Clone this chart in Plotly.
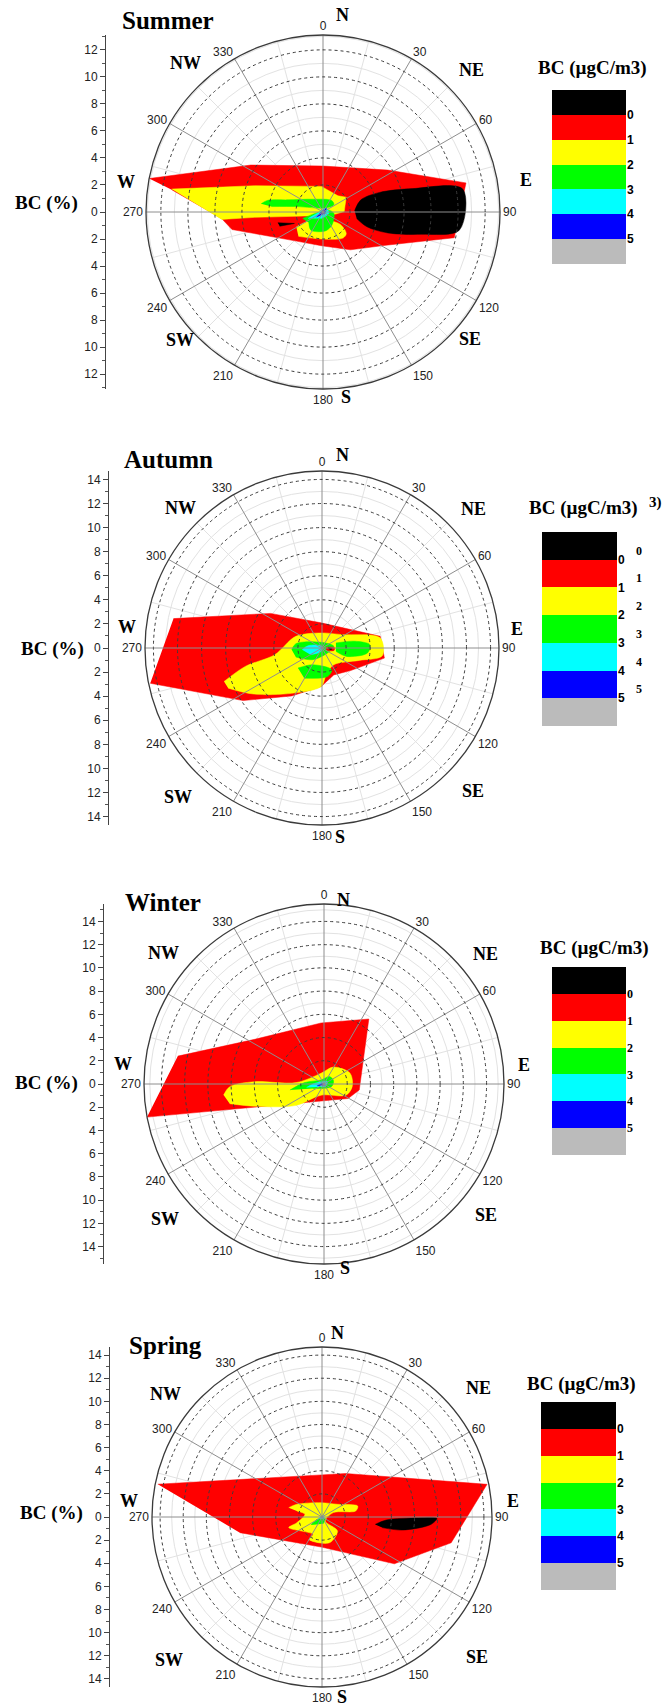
import plotly.graph_objects as go

W, H = 663, 1708

SEASONS = ["Summer", "Autumn", "Winter", "Spring"]
RADIAL_MAX = [13.1, 14.7, 15.5, 14.7]
ANGLE_TICKS = list(range(0, 360, 30))
MINOR_ANGLES = list(range(15, 360, 30))
COMPASS = ["N", "NE", "E", "SE", "S", "SW", "W", "NW"]
LEVEL_LABELS = ["0", "1", "2", "3", "4", "5"]
LEVEL_COLORS = ["#000000", "#ff0000", "#ffff00", "#00ff00", "#00ffff", "#0000ff", "#bbbbbb"]  # legend, top -> bottom
COLOR = {"black": "#000000", "red": "#ff0000", "yellow": "#ffff00", "green": "#00ff00",
         "cyan": "#00ffff", "blue": "#0000ff"}

# ---- contour region boundaries: theta (deg, clockwise from N) and r (BC %) ----
SUMMER_RED_T = [280.9, 303.0, 0.0, 57.1, 78.5, 101.1, 118.9, 144.0, 182.7, 222.5, 259.1, 266.3, 278.4]
SUMMER_RED_R = [13.1, 6.38, 3.4, 5.71, 10.8, 9.9, 5.13, 3.46, 2.5, 2.92, 6.86, 7.52, 11.32]
SUMMER_BLACK_T = [87.6, 72.2, 70.9, 75.4, 80.7, 97.6, 102.8, 107.9, 108.6, 100.9]
SUMMER_BLACK_R = [2.34, 2.94, 4.43, 6.87, 10.48, 10.18, 7.45, 5.04, 3.44, 2.54]
SUMMER_YEL1_T = [278.6, 291.1, 356.4, 42.8, 57.4, 88.9, 99.0, 174.0, 257.5, 265.5, 265.8]
SUMMER_YEL1_R = [11.33, 5.41, 1.9, 1.63, 2.04, 1.57, 0.96, 0.3, 1.38, 5.07, 7.53]
SUMMER_YEL2_T = [240.8, 238.7, 163.0, 125.5, 132.9, 142.5, 183.4, 225.3]
SUMMER_YEL2_R = [2.26, 1.4, 0.63, 1.55, 2.35, 2.43, 2.0, 2.56]
SUMMER_GRN1_T = [277.5, 281.7, 289.2, 322.1, 37.4, 56.5, 31.0, 281.5, 276.0]
SUMMER_GRN1_R = [4.62, 4.21, 2.73, 1.2, 1.07, 0.96, 0.35, 2.01, 3.84]
SUMMER_GRN2_T = [252.4, 260.0, 66.0, 97.0, 146.4, 172.7, 213.4, 232.7]
SUMMER_GRN2_R = [1.58, 0.59, 0.37, 0.81, 1.18, 1.41, 1.62, 1.32]
SUMMER_CYAN_T = [246.6, 257.0, 41.8, 103.0, 194.0]
SUMMER_CYAN_R = [1.21, 0.44, 0.37, 0.44, 0.5]
SUMMER_BLUE_T = [230.8, 284.0, 41.8, 130.0]
SUMMER_BLUE_R = [0.63, 0.12, 0.37, 0.16]
SUMMER_SPOT_T = [256.6, 248.2, 251.8]
SUMMER_SPOT_R = [3.44, 2.28, 3.37]

AUTUMN_RED_T = [281.2, 303.9, 358.0, 78.6, 99.2, 128.2, 156.3, 181.3, 212.3, 236.3, 258.4]
AUTUMN_RED_R = [12.57, 5.15, 2.09, 4.93, 5.25, 3.03, 2.44, 3.2, 4.71, 7.87, 14.56]
AUTUMN_YEL_T = [251.1, 256.5, 261.9, 294.1, 356.8, 56.5, 80.1, 97.3, 108.5, 144.8, 171.1, 181.3, 213.8, 236.0, 246.8]
AUTUMN_YEL_R = [8.6, 6.55, 3.96, 2.38, 1.25, 2.01, 4.9, 5.05, 3.25, 1.7, 2.26, 3.2, 4.53, 6.84, 8.47]
AUTUMN_GRN1_T = [266.8, 279.4, 351.5, 81.9, 132.4, 218.4, 250.9]
AUTUMN_GRN1_R = [2.52, 2.2, 0.48, 0.99, 0.62, 1.24, 2.3]
AUTUMN_GRN2_T = [70.1, 78.4, 86.0, 96.3, 109.0, 103.6]
AUTUMN_GRN2_R = [1.23, 2.79, 3.97, 3.8, 2.15, 1.19]
AUTUMN_GRN3_T = [230.1, 209.0, 155.9, 169.0, 210.4]
AUTUMN_GRN3_R = [2.6, 1.59, 1.98, 2.41, 2.91]
AUTUMN_CYAN_T = [265.2, 280.0, 0.0, 194.0, 239.5]
AUTUMN_CYAN_R = [1.66, 1.14, 0.14, 0.29, 1.1]
AUTUMN_RED2_T = [80.0, 88.4, 102.7, 118.5]
AUTUMN_RED2_R = [0.35, 1.05, 1.0, 0.4]
AUTUMN_BLACK_T = [85.0, 95.0, 100.0, 88.0]
AUTUMN_BLACK_R = [0.55, 0.85, 0.7, 0.5]

WINTER_RED_T = [280.8, 302.8, 357.3, 34.6, 99.7, 121.1, 259.4]
WINTER_RED_R = [12.81, 7.1, 5.26, 6.8, 3.08, 2.42, 15.5]
WINTER_YEL_T = [263.7, 268.4, 271.9, 272.9, 345.0, 29.3, 67.5, 95.4, 116.9, 194.6, 232.5, 252.2, 258.2]
WINTER_YEL_R = [8.7, 8.12, 5.97, 2.4, 0.96, 1.67, 2.43, 2.44, 2.12, 0.99, 3.02, 6.27, 8.29]
WINTER_GRN_T = [259.9, 274.1, 324.5, 35.7, 70.5, 109.8, 248.6]
WINTER_GRN_R = [2.98, 1.68, 0.43, 0.79, 0.87, 0.68, 1.04]
WINTER_CYAN_T = [259.0, 274.3, 55.4, 154.0]
WINTER_CYAN_R = [1.53, 0.79, 0.35, 0.26]
WINTER_BLUE_T = [254.4, 310.0, 137.0]
WINTER_BLUE_R = [0.63, 0.09, 0.16]

SPRING_RED_T = [281.3, 358.9, 28.5, 78.8, 101.3, 122.9, 181.5, 259.2]
SPRING_RED_R = [14.48, 3.64, 4.28, 14.55, 11.39, 7.45, 2.6, 7.23]
SPRING_BLACK_T = [97.9, 92.7, 90.4, 90.7, 93.9, 99.2, 100.0]
SPRING_BLACK_R = [4.64, 5.56, 8.36, 9.94, 9.44, 7.05, 5.28]
SPRING_YEL_T = [285.7, 296.8, 356.8, 50.6, 72.9, 79.9, 68.8, 141.0, 132.1, 164.2, 210.0, 207.0, 252.3, 257.3, 278.8, 283.4]
SPRING_YEL_R = [2.99, 2.44, 1.24, 1.73, 3.23, 2.96, 1.05, 0.45, 1.8, 2.32, 2.24, 1.69, 3.02, 2.23, 1.5, 2.24]
SPRING_GRN_T = [234.0, 244.5, 113.0, 170.0]
SPRING_GRN_R = [1.17, 0.47, 0.3, 0.59]
SPRING_CYAN_T = [244.0, 40.0, 120.0]
SPRING_CYAN_R = [0.39, 0.16, 0.24]

REGIONS = {
    "Summer": [("red", SUMMER_RED_T, SUMMER_RED_R, "linear"),
               ("black", SUMMER_BLACK_T, SUMMER_BLACK_R, "spline"),
               ("yellow", SUMMER_YEL1_T, SUMMER_YEL1_R, "linear"),
               ("yellow", SUMMER_YEL2_T, SUMMER_YEL2_R, "spline"),
               ("green", SUMMER_GRN1_T, SUMMER_GRN1_R, "spline"),
               ("green", SUMMER_GRN2_T, SUMMER_GRN2_R, "spline"),
               ("cyan", SUMMER_CYAN_T, SUMMER_CYAN_R, "spline"),
               ("blue", SUMMER_BLUE_T, SUMMER_BLUE_R, "spline"),
               ("black", SUMMER_SPOT_T, SUMMER_SPOT_R, "linear")],
    "Autumn": [("red", AUTUMN_RED_T, AUTUMN_RED_R, "linear"),
               ("yellow", AUTUMN_YEL_T, AUTUMN_YEL_R, "spline"),
               ("green", AUTUMN_GRN1_T, AUTUMN_GRN1_R, "spline"),
               ("green", AUTUMN_GRN2_T, AUTUMN_GRN2_R, "spline"),
               ("green", AUTUMN_GRN3_T, AUTUMN_GRN3_R, "spline"),
               ("cyan", AUTUMN_CYAN_T, AUTUMN_CYAN_R, "spline"),
               ("red", AUTUMN_RED2_T, AUTUMN_RED2_R, "spline"),
               ("black", AUTUMN_BLACK_T, AUTUMN_BLACK_R, "spline")],
    "Winter": [("red", WINTER_RED_T, WINTER_RED_R, "linear"),
               ("yellow", WINTER_YEL_T, WINTER_YEL_R, "spline"),
               ("green", WINTER_GRN_T, WINTER_GRN_R, "spline"),
               ("cyan", WINTER_CYAN_T, WINTER_CYAN_R, "spline"),
               ("blue", WINTER_BLUE_T, WINTER_BLUE_R, "spline")],
    "Spring": [("red", SPRING_RED_T, SPRING_RED_R, "linear"),
               ("black", SPRING_BLACK_T, SPRING_BLACK_R, "spline"),
               ("yellow", SPRING_YEL_T, SPRING_YEL_R, "spline"),
               ("green", SPRING_GRN_T, SPRING_GRN_R, "spline"),
               ("cyan", SPRING_CYAN_T, SPRING_CYAN_R, "spline")],
}

# ---- layout geometry (pixels) ----
GEOM = [
    dict(cx=323, cy=212, rad=177, ax_x=106, title=(120, 20), bc=(46, 203), box=(552, 626, 90, 264), ltitle=(536, 68),
         compass=[(342, 15), (471, 70), (526, 180), (470, 339), (346, 397), (180, 340), (126, 182), (185, 63)],
         lfont="sans"),
    dict(cx=322, cy=648, rad=177, ax_x=109, title=(122, 459), bc=(52, 649), box=(542, 617, 532, 726), ltitle=(527, 508),
         compass=[(342, 455), (473, 509), (517, 629), (473, 791), (340, 837), (178, 797), (127, 627), (181, 508)],
         lfont="sans"),
    dict(cx=324, cy=1084, rad=180, ax_x=104, title=(123, 902), bc=(46, 1083), box=(552, 626, 967, 1155), ltitle=(538, 948),
         compass=[(343, 900), (486, 954), (524, 1065), (486, 1215), (345, 1268), (165, 1219), (123, 1064), (163, 953)],
         lfont="serif"),
    dict(cx=322, cy=1517, rad=170, ax_x=110, title=(127, 1345), bc=(51, 1513), box=(541, 616, 1402, 1590), ltitle=(525, 1384),
         compass=[(337, 1333), (478, 1388), (513, 1501), (477, 1657), (342, 1697), (169, 1660), (129, 1501), (165, 1394)],
         lfont="sans"),
]

SERIF = "Liberation Serif, Times New Roman, serif"
SANS = "Liberation Sans, Arial, sans-serif"


def px(x):
    return x / W


def py(y):
    return 1 - y / H


def pname(n):
    return "polar" if n == 1 else f"polar{n}"


def aname(kind, n):
    return kind if n == 1 else f"{kind}{n}"


fig = go.Figure()
annotations = []
layout = {}

for i, season in enumerate(SEASONS):
    g = GEOM[i]
    R = RADIAL_MAX[i]
    p_data, p_grid = 2 * i + 1, 2 * i + 2
    dom = dict(x=[px(g["cx"] - g["rad"]), px(g["cx"] + g["rad"])],
               y=[py(g["cy"] + g["rad"]), py(g["cy"] - g["rad"])])

    # filled contour regions
    for cname, th, rr, shape in REGIONS[season]:
        fig.add_trace(go.Scatterpolar(
            theta=th, r=rr, mode="lines", fill="toself", fillcolor=COLOR[cname],
            line=dict(color=COLOR[cname], width=0.5, shape=shape, smoothing=0.9),
            subplot=pname(p_data), showlegend=False, hoverinfo="skip"))
    # invisible anchor trace for grid overlay
    fig.add_trace(go.Scatterpolar(theta=[0], r=[0], mode="markers", marker=dict(size=1, opacity=0),
                                  subplot=pname(p_grid), showlegend=False, hoverinfo="skip"))

    odd = [v for v in range(1, int(R) + 1) if v % 2 == 1]
    even = [v for v in range(2, int(R) + 1) if v % 2 == 0]
    layout[pname(p_data)] = dict(
        domain=dom, bgcolor="white",
        radialaxis=dict(range=[0, R], tickvals=odd, showticklabels=False, ticks="", showline=False,
                        gridcolor="#e2e2e2", gridwidth=1),
        angularaxis=dict(rotation=90, direction="clockwise", tickvals=MINOR_ANGLES, showticklabels=False,
                         ticks="", showline=False, gridcolor="#e2e2e2", gridwidth=1))
    layout[pname(p_grid)] = dict(
        domain=dom, bgcolor="rgba(0,0,0,0)",
        radialaxis=dict(range=[0, R], tickvals=even, showticklabels=False, ticks="", showline=False,
                        gridcolor="#3c3c3c", gridwidth=1, griddash="dot"),
        angularaxis=dict(rotation=90, direction="clockwise", tickvals=ANGLE_TICKS,
                         ticktext=[str(a) for a in ANGLE_TICKS], ticks="",
                         tickfont=dict(family=SANS, size=12, color="#222"),
                         showline=True, linecolor="#3a3a3a", linewidth=1.3,
                         gridcolor="#8e8e8e", gridwidth=1))

    # left BC (%) axis
    a_left, a_leg = 2 * i + 1, 2 * i + 2
    ticks = [v for v in range(-14, 15, 2) if abs(v) <= R]
    layout[aname("xaxis", a_left)] = dict(domain=[px(g["ax_x"]), px(g["ax_x"] + 1)], range=[0, 1],
                                          visible=False, anchor=aname("y", a_left))
    layout[aname("yaxis", a_left)] = dict(
        domain=[py(g["cy"] + g["rad"]), py(g["cy"] - g["rad"])], range=[-R, R],
        anchor=aname("x", a_left), tickmode="array", tickvals=ticks, ticktext=[str(abs(v)) for v in ticks],
        ticks="outside", ticklen=5, tickcolor="#444", showline=True, linecolor="#444", linewidth=1,
        showgrid=False, zeroline=False, tickfont=dict(family=SANS, size=12, color="#222"),
        minor=dict(tickmode="linear", tick0=0, dtick=1, ticks="outside", ticklen=3, tickcolor="#555",
                   showgrid=False))
    fig.add_trace(go.Scatter(x=[0.5], y=[0], mode="markers", marker=dict(opacity=0, size=1),
                             xaxis=aname("x", a_left), yaxis=aname("y", a_left),
                             showlegend=False, hoverinfo="skip"))

    # colour legend (stacked bars)
    x0, x1, y0, y1 = g["box"]
    for k, c in enumerate(reversed(LEVEL_COLORS)):
        fig.add_trace(go.Bar(x=[0], y=[1], width=1, marker=dict(color=c, line=dict(width=0)),
                             xaxis=aname("x", a_leg), yaxis=aname("y", a_leg),
                             showlegend=False, hoverinfo="skip"))
    lf = SERIF if g["lfont"] == "serif" else SANS
    layout[aname("xaxis", a_leg)] = dict(domain=[px(x0), px(x1)], range=[-0.5, 0.5], visible=False,
                                         anchor=aname("y", a_leg))
    layout[aname("yaxis", a_leg)] = dict(
        domain=[py(y1), py(y0)], range=[0, 7], anchor=aname("x", a_leg), side="right",
        tickmode="array", tickvals=[6, 5, 4, 3, 2, 1], ticktext=[f"<b>{t}</b>" for t in LEVEL_LABELS],
        ticks="", showline=False, showgrid=False, zeroline=False,
        tickfont=dict(family=lf, size=12, color="#000"))
    annotations.append(dict(x=px(g["ltitle"][0]), y=py(g["ltitle"][1]), xref="paper", yref="paper",
                            text="<b>BC (µgC/m3)</b>", showarrow=False, xanchor="left", yanchor="middle",
                            font=dict(family=SERIF, size=19, color="#000")))

    # season title
    annotations.append(dict(x=px(g["title"][0]), y=py(g["title"][1]), xref="paper", yref="paper",
                            text=f"<b>{season}</b>", showarrow=False, xanchor="left", yanchor="middle",
                            font=dict(family=SERIF, size=25, color="#000")))
    # BC (%) axis label
    annotations.append(dict(x=px(g["bc"][0]), y=py(g["bc"][1]), xref="paper", yref="paper",
                            text="<b>BC (%)</b>", showarrow=False, xanchor="center", yanchor="middle",
                            font=dict(family=SERIF, size=19, color="#000")))
    # compass labels
    for lab, (cx, cy) in zip(COMPASS, g["compass"]):
        annotations.append(dict(x=px(cx), y=py(cy), xref="paper", yref="paper", text=f"<b>{lab}</b>",
                                showarrow=False, xanchor="center", yanchor="middle",
                                font=dict(family=SERIF, size=18, color="#000")))

# Autumn legend: duplicated offset labels as in the original figure
ga = GEOM[1]
bx0, bx1, by0, by1 = ga["box"]
band = (by1 - by0) / 7
for k, t in enumerate(LEVEL_LABELS):
    yb = by0 + band * (k + 1) - 9
    annotations.append(dict(x=px(bx1 + 17), y=py(yb), xref="paper", yref="paper", text=f"<b>{t}</b>",
                            showarrow=False, xanchor="left", yanchor="middle",
                            font=dict(family=SERIF, size=12, color="#000")))
annotations.append(dict(x=px(647), y=py(502), xref="paper", yref="paper", text="<b>3)</b>",
                        showarrow=False, xanchor="left", yanchor="middle",
                        font=dict(family=SERIF, size=15, color="#000")))

fig.update_layout(
    width=W, height=H, margin=dict(l=0, r=0, t=0, b=0),
    paper_bgcolor="white", plot_bgcolor="white", barmode="stack", bargap=0,
    showlegend=False, annotations=annotations, **layout)

fig.write_html("out.html")
